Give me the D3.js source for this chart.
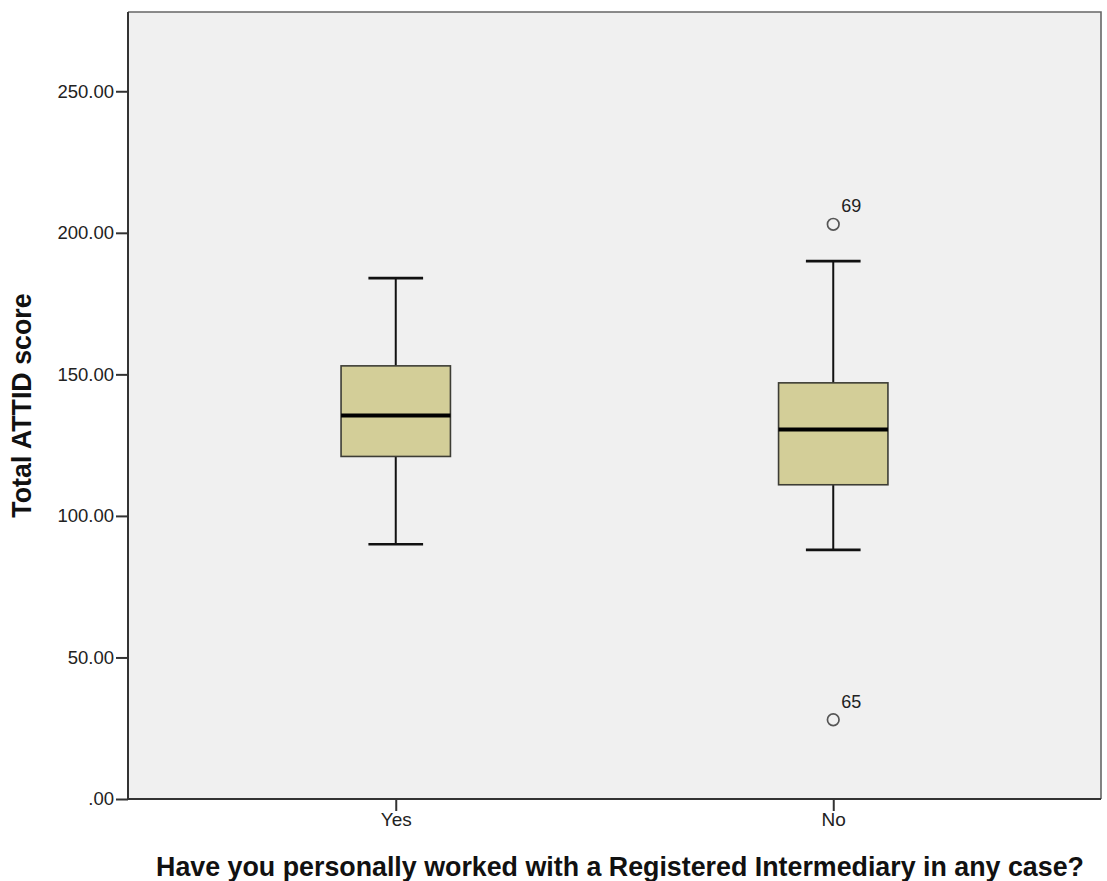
<!DOCTYPE html>
<html>
<head>
<meta charset="utf-8">
<script src="https://cdn.jsdelivr.net/npm/d3@7"></script>
<style>
  html, body { margin: 0; padding: 0; background: #ffffff; }
  svg { display: block; }
</style>
</head>
<body>
<svg id="chart" width="1107" height="881"></svg>
<script>
// ---- data ----
const categories = ["Yes", "No"];
const whiskerLow  = [90, 88];
const q1          = [121, 111];
const medians     = [135.5, 130.5];
const q3          = [153, 147];
const whiskerHigh = [184, 190];
const outlierGroup  = ["No", "No"];
const outlierValues = [203, 28];
const outlierLabels = ["69", "65"];
const yTicks = [0, 50, 100, 150, 200, 250];
const yTickLabels = [".00", "50.00", "100.00", "150.00", "200.00", "250.00"];
const xTitle = "Have you personally worked with a Registered Intermediary in any case?";
const yTitle = "Total ATTID score";

(function () {
// ---- layout ----
const pL = 128, pR = 1101, pT = 12, pB = 799;
const svg = d3.select("#chart");

const x = d3.scalePoint().domain(categories).range([pL, pR]).padding(0.612);
const y = d3.scaleLinear().domain([0, 278]).range([pB, pT]);
const boxW = x.step() * 0.25;
const capW = x.step() * 0.125;

// plot background
svg.append("rect")
  .attr("x", pL).attr("y", pT)
  .attr("width", pR - pL).attr("height", pB - pT)
  .attr("fill", "#f0f0f0");

// frame top & right
svg.append("path")
  .attr("d", `M${pL},${pT}H${pR}V${pB}`)
  .attr("fill", "none").attr("stroke", "#666").attr("stroke-width", 1.6);

const boxes = categories.map((c, i) => ({
  c, lo: whiskerLow[i], q1: q1[i], med: medians[i], q3: q3[i], hi: whiskerHigh[i]
}));

const g = svg.append("g");
boxes.forEach(b => {
  const cx = x(b.c);
  g.append("line").attr("x1", cx).attr("x2", cx).attr("y1", y(b.hi)).attr("y2", y(b.q3))
    .attr("stroke", "#111").attr("stroke-width", 2);
  g.append("line").attr("x1", cx).attr("x2", cx).attr("y1", y(b.q1)).attr("y2", y(b.lo))
    .attr("stroke", "#111").attr("stroke-width", 2);
  [b.hi, b.lo].forEach(v => {
    g.append("line").attr("x1", cx - capW / 2).attr("x2", cx + capW / 2)
      .attr("y1", y(v)).attr("y2", y(v))
      .attr("stroke", "#111").attr("stroke-width", 2.6);
  });
  g.append("rect")
    .attr("x", cx - boxW / 2).attr("y", y(b.q3))
    .attr("width", boxW).attr("height", y(b.q1) - y(b.q3))
    .attr("fill", "#d3ce98").attr("stroke", "#3d3d35").attr("stroke-width", 1.6);
  g.append("line").attr("x1", cx - boxW / 2).attr("x2", cx + boxW / 2)
    .attr("y1", y(b.med)).attr("y2", y(b.med))
    .attr("stroke", "#000").attr("stroke-width", 4);
});

// outliers
outlierValues.forEach((v, i) => {
  const cx = x(outlierGroup[i]), cy = y(v);
  svg.append("circle").attr("cx", cx).attr("cy", cy).attr("r", 5.8)
    .attr("fill", "none").attr("stroke", "#555").attr("stroke-width", 1.7);
  svg.append("text").attr("x", cx + 8).attr("y", cy - 12)
    .attr("font-family", "Liberation Sans, Arial, sans-serif").attr("font-size", 18)
    .attr("fill", "#222").text(outlierLabels[i]);
});

// y axis
const yAxis = d3.axisLeft(y).tickValues(yTicks).tickSize(12).tickPadding(2)
  .tickFormat((d, i) => yTickLabels[i]);
const ya = svg.append("g").attr("transform", `translate(${pL},0)`).call(yAxis);
ya.select(".domain").attr("d", `M0,${pT}V${pB}`).attr("stroke", "#333").attr("stroke-width", 2);
ya.selectAll(".tick line").attr("stroke", "#333").attr("stroke-width", 2);
ya.selectAll(".tick text").attr("font-family", "Liberation Sans, Arial, sans-serif")
  .attr("font-size", 18.5).attr("fill", "#222");

// x axis
const xAxis = d3.axisBottom(x).tickSize(12).tickPadding(2);
const xa = svg.append("g").attr("transform", `translate(0,${pB})`).call(xAxis);
xa.select(".domain").attr("d", `M${pL},0H${pR}`).attr("stroke", "#333").attr("stroke-width", 2);
xa.selectAll(".tick line").attr("stroke", "#333").attr("stroke-width", 2);
xa.selectAll(".tick text").attr("font-family", "Liberation Sans, Arial, sans-serif")
  .attr("font-size", 19).attr("fill", "#222");

// titles
svg.append("text").attr("x", 620).attr("y", 876).attr("text-anchor", "middle")
  .attr("font-family", "Liberation Sans, Arial, sans-serif").attr("font-weight", "bold")
  .attr("font-size", 26.8).attr("fill", "#111").text(xTitle);
svg.append("text").attr("transform", `translate(31,${(pT + pB) / 2}) rotate(-90)`)
  .attr("text-anchor", "middle")
  .attr("font-family", "Liberation Sans, Arial, sans-serif").attr("font-weight", "bold")
  .attr("font-size", 26.8).attr("fill", "#111").text(yTitle);
})();
</script>
</body>
</html>
